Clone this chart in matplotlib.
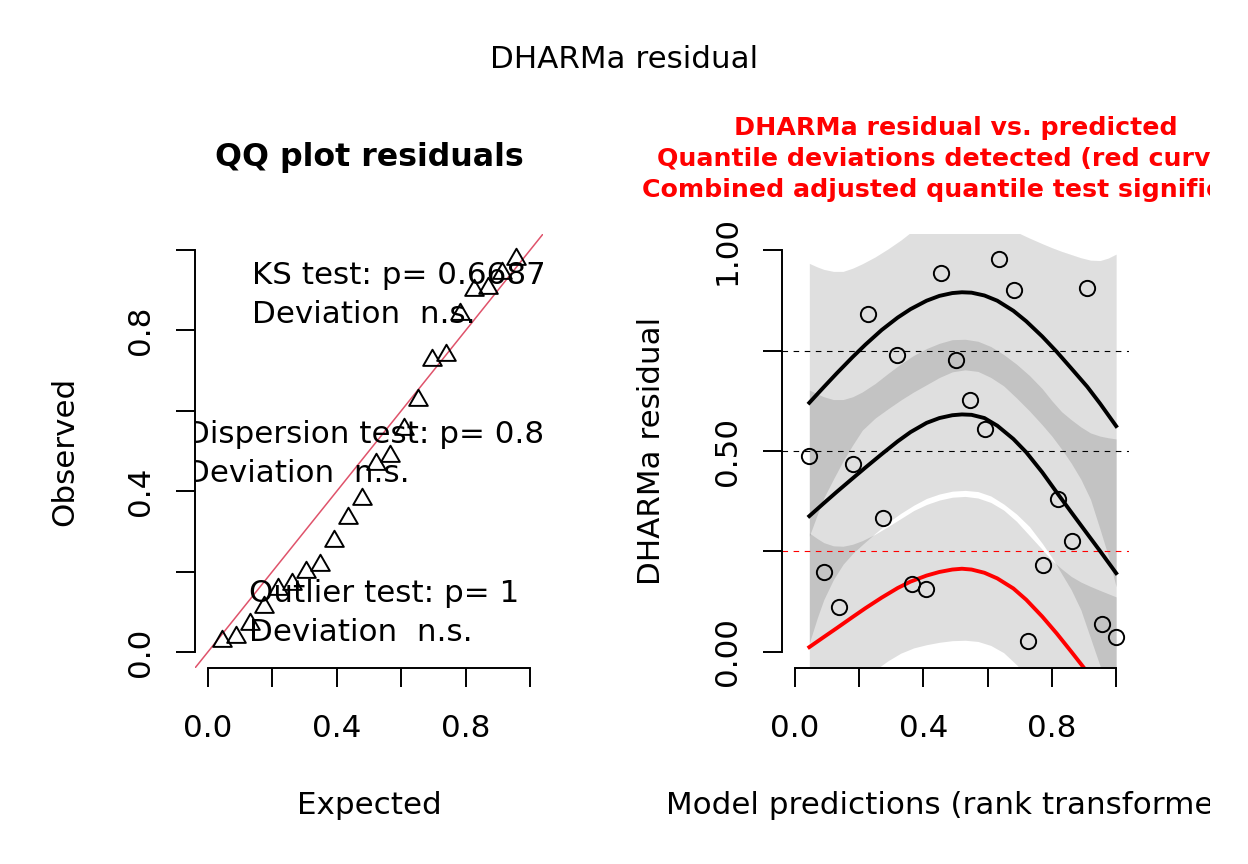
import matplotlib
matplotlib.use("Agg")
import matplotlib.pyplot as plt
from matplotlib.path import Path
from matplotlib.transforms import Bbox, TransformedBbox

W, H = 1248, 864

# scaled residuals, ordered by rank-transformed model prediction
pred_rank = [0.045, 0.091, 0.136, 0.182, 0.227, 0.273, 0.318, 0.364, 0.409, 0.455, 0.500,
             0.545, 0.591, 0.636, 0.682, 0.727, 0.773, 0.818, 0.864, 0.909, 0.955, 1.000]
residuals = [0.488, 0.198, 0.113, 0.468, 0.840, 0.333, 0.740, 0.169, 0.156, 0.942, 0.726,
             0.628, 0.554, 0.979, 0.900, 0.027, 0.216, 0.380, 0.276, 0.906, 0.069, 0.037]
qq_expected = [0.043, 0.087, 0.130, 0.174, 0.217, 0.261, 0.304, 0.348, 0.391, 0.435, 0.478,
               0.522, 0.565, 0.609, 0.652, 0.696, 0.739, 0.783, 0.826, 0.870, 0.913, 0.957]

# fitted quantile curves
curve_x = [0.045, 0.09, 0.13, 0.18, 0.22, 0.27, 0.32, 0.36, 0.41, 0.45, 0.49, 0.52,
           0.55, 0.59, 0.63, 0.68, 0.72, 0.77, 0.815, 0.86, 0.91, 0.95, 1.0]
q75_fit = [0.620, 0.659, 0.693, 0.734, 0.765, 0.801, 0.832, 0.853, 0.874, 0.886, 0.893, 0.895,
           0.894, 0.887, 0.874, 0.849, 0.823, 0.785, 0.747, 0.706, 0.660, 0.618, 0.562]
q50_fit = [0.338, 0.370, 0.398, 0.432, 0.459, 0.492, 0.524, 0.547, 0.570, 0.582, 0.589, 0.591,
           0.590, 0.582, 0.563, 0.530, 0.497, 0.447, 0.397, 0.348, 0.294, 0.251, 0.196]
q25_fit = [0.012, 0.037, 0.059, 0.087, 0.109, 0.135, 0.159, 0.175, 0.190, 0.199, 0.205, 0.207,
           0.205, 0.197, 0.183, 0.158, 0.130, 0.088, 0.046, 0.001, -0.050, -0.093, -0.148]

# confidence bands of the quantile curves
band_x = [0.045, 0.07, 0.09, 0.12, 0.15, 0.18, 0.21, 0.25, 0.29, 0.33, 0.37, 0.41, 0.45,
          0.49, 0.53, 0.57, 0.61, 0.65, 0.69, 0.73, 0.77, 0.80, 0.83, 0.86, 0.89, 0.92,
          0.95, 0.975, 1.0]
q75_hi = [0.967, 0.958, 0.952, 0.947, 0.947, 0.955, 0.966, 0.983, 1.003, 1.025, 1.050, 1.070,
          1.085, 1.090, 1.090, 1.085, 1.075, 1.060, 1.045, 1.030, 1.016, 1.006, 0.997, 0.989,
          0.981, 0.975, 0.974, 0.980, 0.990]
q75_lo = [0.288, 0.342, 0.383, 0.430, 0.475, 0.515, 0.552, 0.582, 0.605, 0.627, 0.647, 0.665,
          0.683, 0.697, 0.702, 0.698, 0.683, 0.662, 0.632, 0.600, 0.565, 0.537, 0.505, 0.470,
          0.430, 0.380, 0.305, 0.240, 0.162]
q50_hi = [0.652, 0.642, 0.635, 0.628, 0.628, 0.635, 0.647, 0.668, 0.693, 0.717, 0.738, 0.755,
          0.768, 0.777, 0.778, 0.773, 0.760, 0.740, 0.716, 0.688, 0.655, 0.625, 0.598, 0.578,
          0.560, 0.545, 0.537, 0.533, 0.530]
q50_lo = [0.022, 0.085, 0.130, 0.180, 0.218, 0.245, 0.267, 0.295, 0.322, 0.345, 0.365, 0.382,
          0.393, 0.400, 0.402, 0.399, 0.388, 0.368, 0.343, 0.312, 0.270, 0.235, 0.195, 0.155,
          0.105, 0.035, -0.035, -0.080, -0.130]
q25_hi = [0.296, 0.282, 0.272, 0.264, 0.263, 0.268, 0.277, 0.293, 0.312, 0.332, 0.352, 0.367,
          0.378, 0.385, 0.387, 0.383, 0.372, 0.353, 0.325, 0.290, 0.255, 0.228, 0.207, 0.188,
          0.174, 0.163, 0.153, 0.145, 0.137]
q25_lo = [-0.270, -0.230, -0.200, -0.160, -0.125, -0.095, -0.070, -0.045, -0.022, -0.003,
          0.010, 0.018, 0.024, 0.028, 0.029, 0.026, 0.016, -0.002, -0.032, -0.065, -0.100,
          -0.130, -0.160, -0.195, -0.235, -0.275, -0.320, -0.360, -0.420]

BASE = 22.3
QQ_RED = "#DF536B"


def fig_xy(x, y):
    return x / W, 1 - y / H


def r_axes(ax, yticks, ylabels):
    for side in ("top", "right"):
        ax.spines[side].set_visible(False)
    for side in ("left", "bottom"):
        ax.spines[side].set_bounds(0, 1)
        ax.spines[side].set_linewidth(1.4)
    ax.set_xlim(-0.04, 1.04)
    ax.set_ylim(-0.04, 1.04)
    ax.set_xticks([0, 0.2, 0.4, 0.6, 0.8, 1.0], ["0.0", "", "0.4", "", "0.8", ""])
    ax.set_yticks(yticks, ylabels)
    ax.tick_params(length=14, width=1.4, labelsize=BASE)
    ax.tick_params(axis="x", pad=19)
    ax.tick_params(axis="y", pad=15)
    for lab in ax.get_yticklabels():
        lab.set_rotation(90)
        lab.set_va("center")


fig = plt.figure(figsize=(W / 100, H / 100), dpi=100)
clip_right = TransformedBbox(Bbox([[0, 0], [1210 / W, 1]]), fig.transFigure)

# ---- left: QQ plot
ax1 = fig.add_axes([195 / W, 1 - 668 / H, 348 / W, 434 / H])
r_axes(ax1, [0, 0.2, 0.4, 0.6, 0.8, 1.0], ["0.0", "", "0.4", "", "0.8", ""])
tri = Path([(0, 1), (-0.866, -0.5), (0.866, -0.5), (0, 1)],
           [Path.MOVETO, Path.LINETO, Path.LINETO, Path.CLOSEPOLY])
ax1.plot(qq_expected, sorted(residuals), linestyle="none", marker=tri, ms=15.5,
         mfc="none", mec="black", mew=1.4, zorder=3)
ax1.axline((0, 0), slope=1, color=QQ_RED, lw=1.1, zorder=2)

tests = [
    (0.137, 0.915, "KS test: p= 0.66874"),
    (0.137, 0.819, "Deviation  n.s."),
    (-0.068, 0.521, "Dispersion test: p= 0.832"),
    (-0.068, 0.424, "Deviation  n.s."),
    (0.128, 0.123, "Outlier test: p= 1"),
    (0.128, 0.028, "Deviation  n.s."),
]
for x, y, s in tests:
    ax1.text(x, y, s, fontsize=BASE, va="baseline", ha="left", clip_on=True, zorder=4)

# ---- right: residual vs predicted
ax2 = fig.add_axes([782 / W, 1 - 668 / H, 347 / W, 434 / H])
r_axes(ax2, [0, 0.25, 0.5, 0.75, 1.0], ["0.00", "", "0.50", "", "1.00"])
for lo, hi in ((q25_lo, q25_hi), (q50_lo, q50_hi), (q75_lo, q75_hi)):
    ax2.fill_between(band_x, lo, hi, color="black", alpha=0.125, lw=0, zorder=1)
for q, col in ((0.25, "red"), (0.5, "black"), (0.75, "black")):
    ax2.axhline(q, color=col, lw=0.8, ls=(0, (5, 5)), zorder=1.5)
ax2.plot(curve_x, q75_fit, color="black", lw=2.8, zorder=2)
ax2.plot(curve_x, q50_fit, color="black", lw=2.8, zorder=2)
ax2.plot(curve_x, q25_fit, color="red", lw=2.8, zorder=2)
ax2.plot(pred_rank, residuals, linestyle="none", marker="o", ms=11,
         mfc="none", mec="black", mew=1.4, zorder=3)

# ---- titles and axis labels
fig.text(*fig_xy(624, 68), "DHARMa residual", fontsize=BASE, ha="center", va="baseline")
fig.text(*fig_xy(369, 166), "QQ plot residuals", fontsize=22.8, fontweight="bold",
         ha="center", va="baseline")
red_lines = ["DHARMa residual vs. predicted",
             "Quantile deviations detected (red curves)",
             "Combined adjusted quantile test significant"]
for base_y, s in zip((134.5, 165.5, 196.5), red_lines):
    t = fig.text(*fig_xy(955.5, base_y), s, fontsize=18.2, fontweight="bold", color="red",
                 ha="center", va="baseline")
    t.set_clip_box(clip_right)
    t.set_clip_on(True)

fig.text(*fig_xy(369, 814), "Expected", fontsize=BASE, ha="center", va="baseline")
t = fig.text(*fig_xy(955.5, 814), "Model predictions (rank transformed)", fontsize=BASE,
             ha="center", va="baseline")
t.set_clip_box(clip_right)
t.set_clip_on(True)
fig.text(*fig_xy(73, 451), "Observed", fontsize=BASE, ha="center", va="baseline",
         rotation=90, rotation_mode="anchor")
fig.text(*fig_xy(660, 451), "DHARMa residual", fontsize=BASE, ha="center", va="baseline",
         rotation=90, rotation_mode="anchor")

fig.savefig("out.png", dpi=100)
